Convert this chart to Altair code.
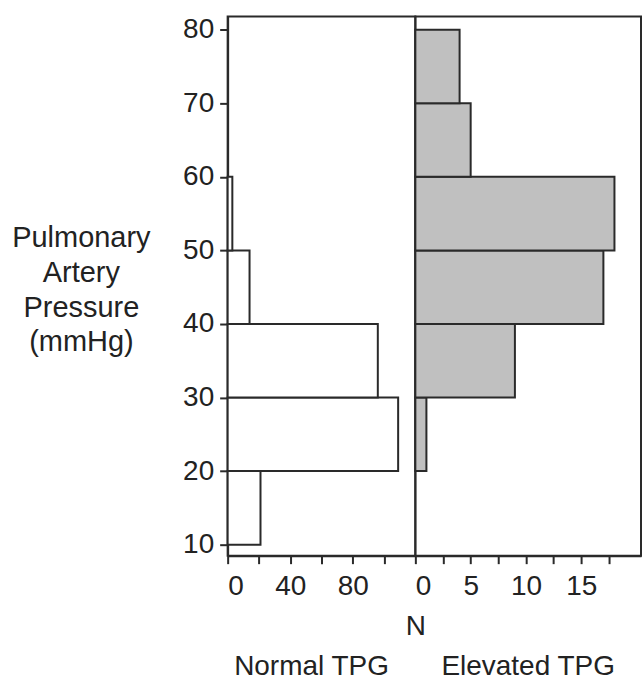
import altair as alt
import pandas as pd

# Histogram bins (Pulmonary artery pressure, mmHg)
bin_start = [10, 20, 30, 40, 50, 60, 70]
bin_end = [20, 30, 40, 50, 60, 70, 80]
normal_counts = [21, 109, 96, 14, 3, 0, 0]
elevated_counts = [0, 1, 9, 17, 18, 5, 4]

y_ticks = [10, 20, 30, 40, 50, 60, 70, 80]
left_ticks = [0, 20, 40, 60, 80, 100]
right_ticks = [0, 2.5, 5, 7.5, 10, 12.5, 15, 17.5]

y_title = ["Pulmonary", "Artery", "Pressure", "(mmHg)"]
x_title = "N"
left_label = "Normal TPG"
right_label = "Elevated TPG"

FONT = "Liberation Sans"
INK = "#2a2a2a"

normal_df = pd.DataFrame({"start": bin_start, "end": bin_end, "count": normal_counts})
normal_df = normal_df[normal_df["count"] > 0]
elev_df = pd.DataFrame({"start": bin_start, "end": bin_end, "count": elevated_counts})
elev_df = elev_df[elev_df["count"] > 0]

y_scale = alt.Scale(domain=[8.5, 81.8], nice=False, zero=False, padding=0)

left = alt.Chart(normal_df).mark_bar(
    orient="horizontal", fill="white", stroke=INK, strokeWidth=2
).encode(
    x=alt.X("count:Q", scale=alt.Scale(domain=[0, 120], nice=False, padding=0),
            title=x_title,
            axis=alt.Axis(values=left_ticks, format="d", labelOverlap=False,
                          labelExpr="datum.value % 40 == 0 ? datum.label : ''",
                          titleX=188, titleY=79, titleAlign="center",
                          titleBaseline="alphabetic")),
    y=alt.Y("start:Q", scale=y_scale, title=y_title,
            axis=alt.Axis(values=y_ticks, labelOverlap=False, titleAngle=0,
                          titleAlign="center", titleBaseline="middle",
                          titleX=-147, titleY=221, titleLineHeight=35,
                          titleFontSize=29)),
    y2="end:Q",
).properties(
    width=188, height=540,
    title=alt.TitleParams(left_label, orient="bottom", frame="group",
                          fontSize=28, font=FONT, fontWeight="normal",
                          color="#222222", offset=13, dx=-10),
)

right = alt.Chart(elev_df).mark_bar(
    orient="horizontal", fill="#c0c0c0", stroke=INK, strokeWidth=2
).encode(
    x=alt.X("count:Q", scale=alt.Scale(domain=[0, 20.4], nice=False, padding=0),
            title=None,
            axis=alt.Axis(values=right_ticks, format="~g", labelOverlap=False,
                          labelExpr="datum.value % 5 == 0 ? datum.label : ''")),
    y=alt.Y("start:Q", scale=y_scale, axis=None),
    y2="end:Q",
).properties(
    width=226, height=540,
    title=alt.TitleParams(right_label, orient="bottom", frame="group",
                          fontSize=28, font=FONT, fontWeight="normal",
                          color="#222222", offset=53),
)

chart = alt.hconcat(left, right, spacing=0, bounds="flush").properties(
    padding={"left": 10, "top": 14, "right": 0, "bottom": 0}
).configure_view(
    stroke=INK, strokeWidth=2
).configure_axis(
    grid=False,
    domainColor=INK, domainWidth=2,
    tickColor=INK, tickWidth=2, tickSize=8,
    labelFont=FONT, labelFontSize=28, labelColor="#222222",
    titleFont=FONT, titleFontSize=28, titleFontWeight="normal", titleColor="#222222",
).configure_axisX(
    labelPadding=9,
).configure_axisY(
    labelPadding=6,
)

chart.save("out.html", embed_options={"renderer": "svg", "actions": False})
